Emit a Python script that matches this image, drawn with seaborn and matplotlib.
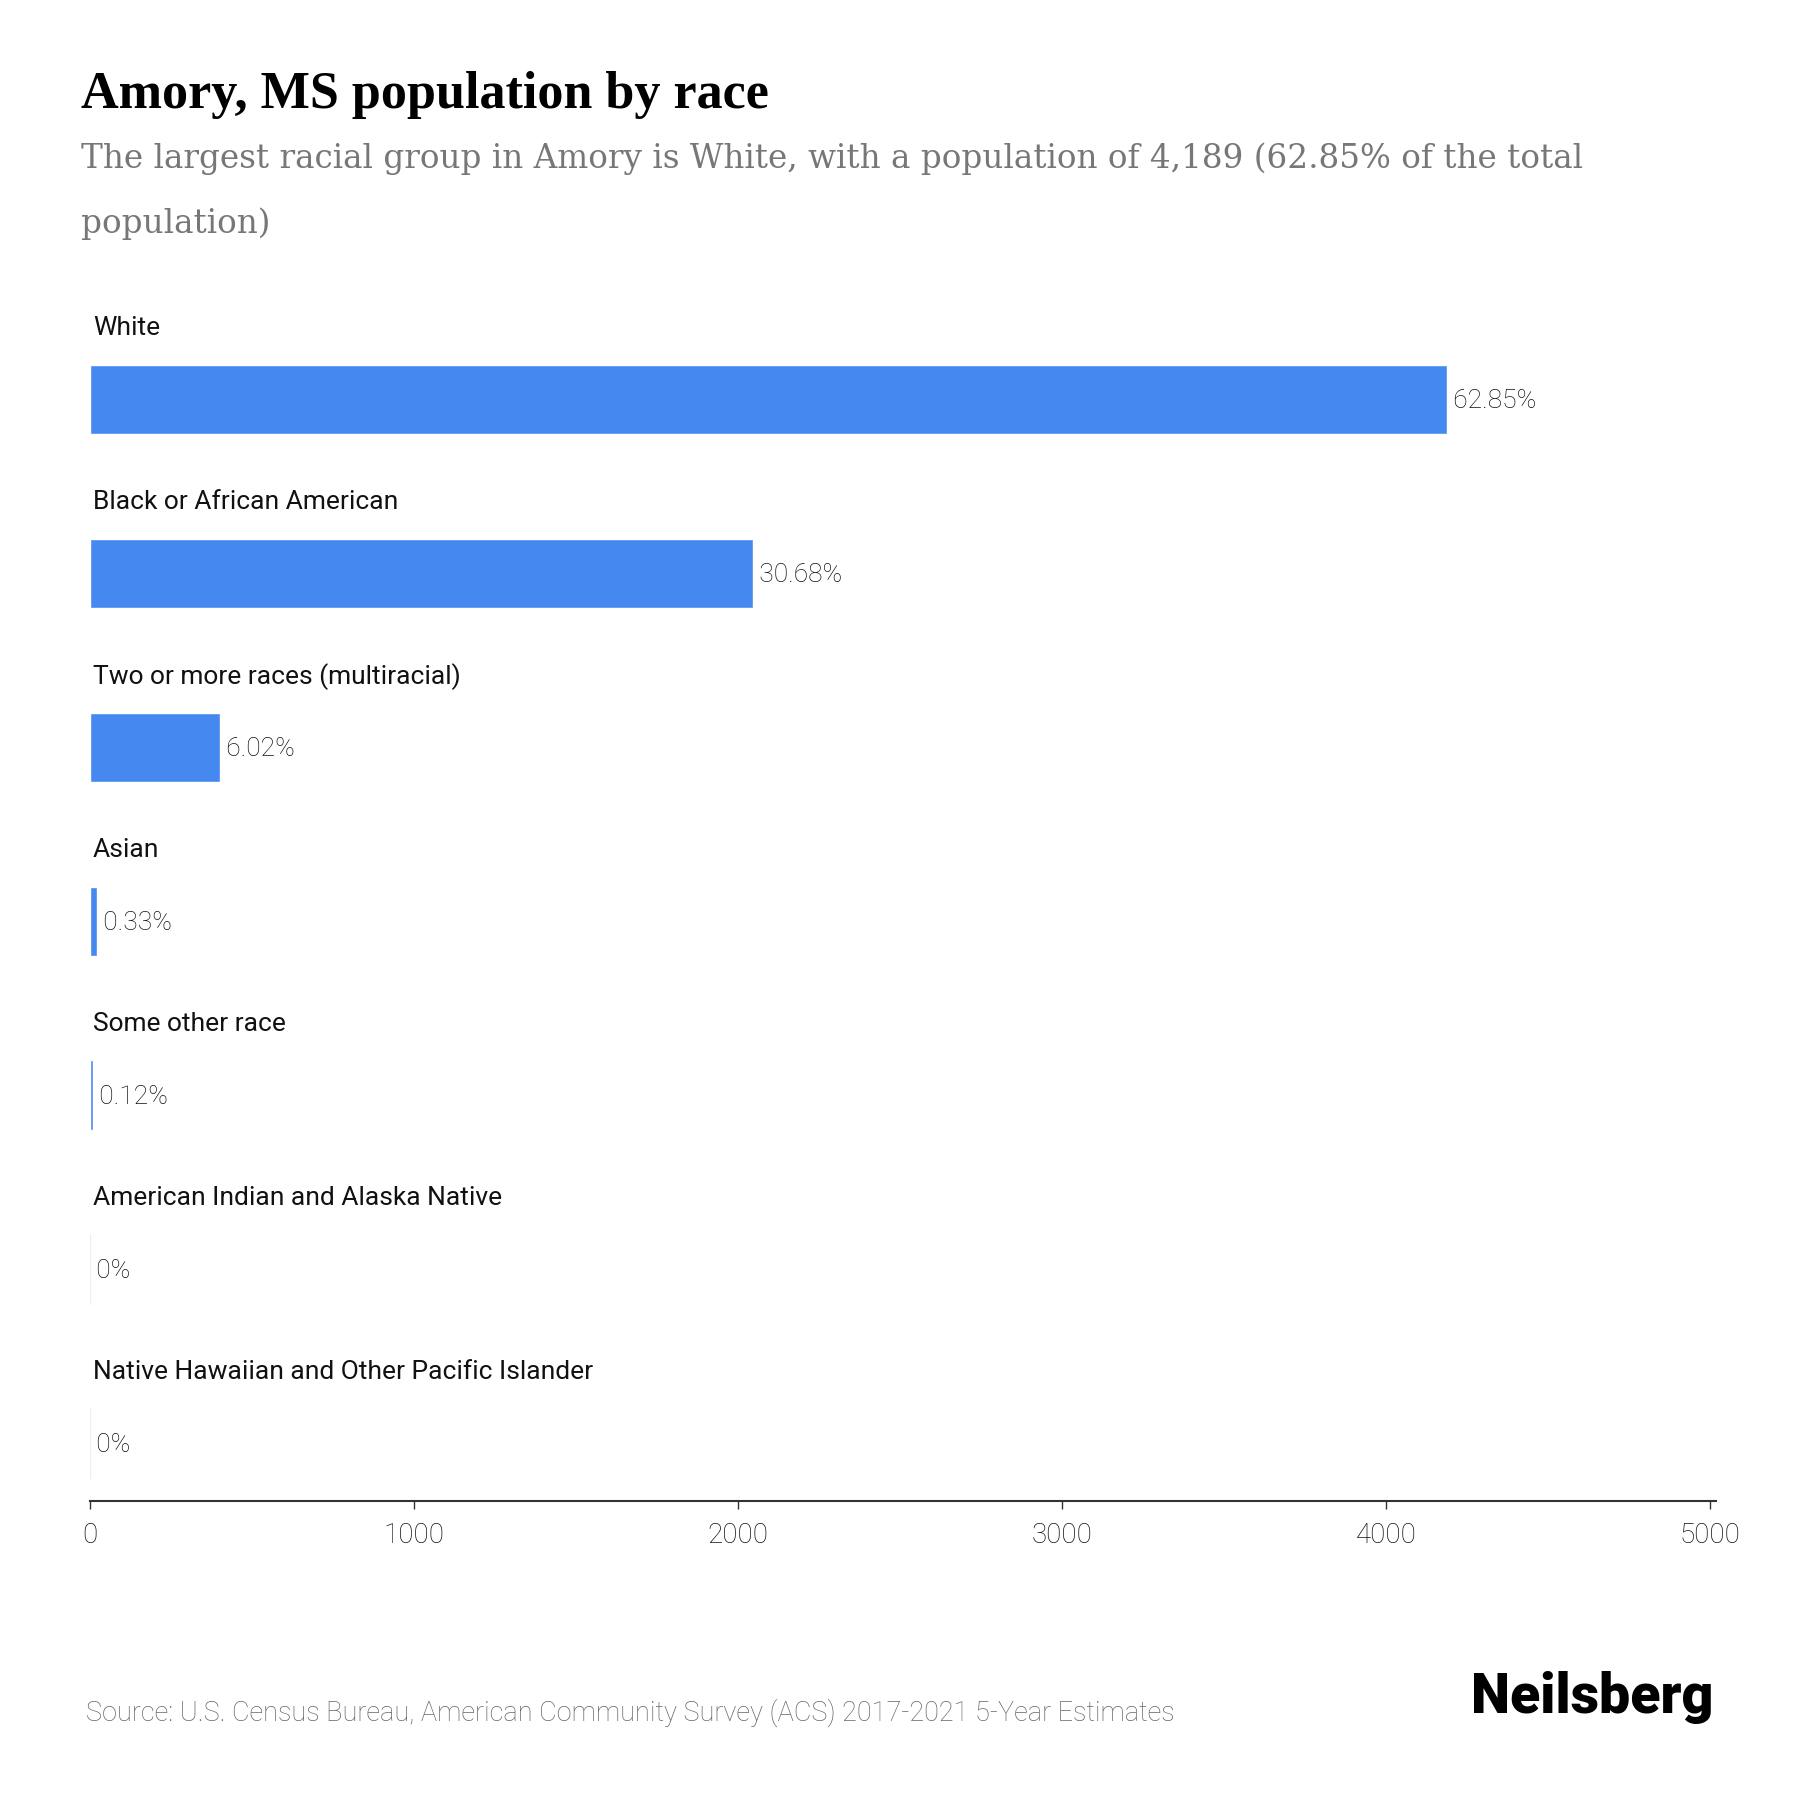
import numpy as np
import pandas as pd
import seaborn as sns
import matplotlib.pyplot as plt

# data
races = ['White', 'Black or African American', 'Two or more races (multiracial)', 'Asian',
         'Some other race', 'American Indian and Alaska Native',
         'Native Hawaiian and Other Pacific Islander']
population = [4189, 2045, 401, 22, 8, 0, 0]
shares = ['62.85%', '30.68%', '6.02%', '0.33%', '0.12%', '0%', '0%']
xticks = [0, 1000, 2000, 3000, 4000, 5000]

df = pd.DataFrame({'race': races, 'population': population})

sns.set_style('white')
plt.rcParams['font.family'] = ['Roboto', 'DejaVu Sans']

fig = plt.figure(figsize=(18, 18), dpi=100)
ax = fig.add_axes([0.05, 0.166, 0.9036, 0.67])

sns.barplot(data=df, x='population', y='race', orient='h', color='#4589F0',
            saturation=1, width=0.40, ax=ax)

ax.set_xlim(0, 5020)
ax.set_ylim(6.334, -0.6)
ax.set_xticks(xticks)
ax.set_xticklabels([str(t) for t in xticks], fontsize=20, color='#111111', fontweight='light')
ax.set_yticks([])
ax.set_xlabel('')
ax.set_ylabel('')
for s in ['top', 'right', 'left']:
    ax.spines[s].set_visible(False)
ax.spines['bottom'].set_color('#333333')
ax.spines['bottom'].set_linewidth(1.5)
ax.tick_params(axis='x', length=6, width=1, color='#333333', pad=9, bottom=True)

for i, (name, val, lab) in enumerate(zip(races, population, shares)):
    ax.annotate(name, (0, i - 0.41), xytext=(2, 0), textcoords='offset points',
                fontsize=19, color='#111111', va='center', ha='left')
    ax.text(val, i + 0.01, ' ' + lab, fontsize=19, color='#111111', va='center', ha='left',
            fontweight='light')
    if val == 0:
        ax.plot([0, 0], [i - 0.2, i + 0.2], color='#eeeeee', lw=1)

fig.text(0.045, 0.947, 'Amory, MS population by race', fontsize=37.5, fontweight='bold',
         family='Liberation Serif', color='#000000', va='center')
fig.text(0.045, 0.912, 'The largest racial group in Amory is White, with a population of 4,189 (62.85% of the total',
         fontsize=23.5, family='DejaVu Serif', color='#777777', va='center')
fig.text(0.045, 0.876, 'population)', fontsize=23.5, family='DejaVu Serif', color='#777777', va='center')

fig.text(0.048, 0.0484, 'Source: U.S. Census Bureau, American Community Survey (ACS) 2017-2021 5-Year Estimates',
         fontsize=19.5, color='#666666', fontweight='light', va='center')
fig.text(0.952, 0.057, 'Neilsberg', fontsize=40, fontweight='black', color='#000000',
         ha='right', va='center')

fig.savefig('out.png', dpi=100, facecolor='white')
